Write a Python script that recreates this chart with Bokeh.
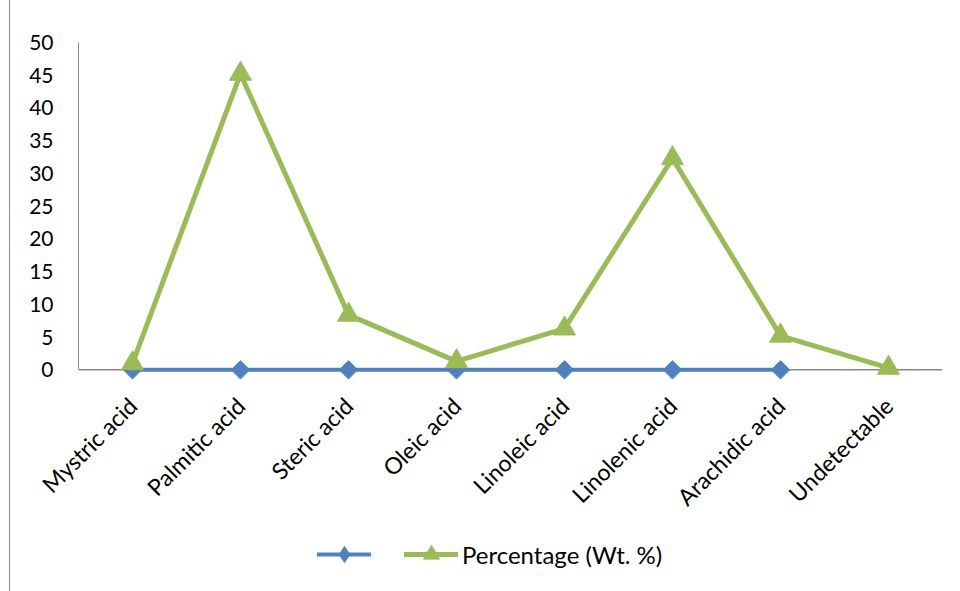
import math

from bokeh.embed import file_html
from bokeh.resources import INLINE
from bokeh.layouts import column
from bokeh.plotting import figure
from bokeh.models import (FactorRange, Range1d, FixedTicker, Legend, LegendItem, Span)

# Fatty acid composition
categories = ["Mystric acid", "Palmitic acid", "Steric acid", "Oleic acid",
              "Linoleic acid", "Linolenic acid", "Arachidic acid", "Undetectable"]
percentage = [1.0, 45.2, 8.4, 1.3, 6.3, 32.3, 5.2, 0.3]
baseline_series = [0, 0, 0, 0, 0, 0, 0]          # first seven categories only
y_ticks = [0, 5, 10, 15, 20, 25, 30, 35, 40, 45, 50]
legend_labels = ["", "Percentage (Wt. %)"]

BLUE = "#4F81BD"
GREEN = "#9BBB59"
AXIS = "#868686"
FONT = "Lato"

base_x = categories[:len(baseline_series)]

# the range dips a little below zero so markers sitting on the baseline are not clipped
p = figure(
    frame_width=864, frame_height=347,
    x_range=FactorRange(*categories, range_padding=0),
    y_range=Range1d(-3, 50),
    output_backend="svg", toolbar_location=None,
    min_border_left=68, min_border_right=18,
    min_border_top=42, min_border_bottom=142,
)
p.outline_line_color = None
p.grid.visible = False

# y axis
p.yaxis.ticker = FixedTicker(ticks=y_ticks)
p.yaxis.bounds = (0, 50)
p.yaxis.axis_line_color = AXIS
p.yaxis.major_tick_line_color = None
p.yaxis.minor_tick_line_color = None
p.yaxis.major_tick_out = 0
p.yaxis.major_tick_in = 0
p.yaxis.major_label_standoff = 25
p.yaxis.major_label_text_font = FONT
p.yaxis.major_label_text_font_size = "21px"
p.yaxis.major_label_text_color = "#000000"

# category axis sits under the frame; its visible line is the zero span
p.xaxis.axis_line_color = None
p.xaxis.major_tick_line_color = None
p.xaxis.minor_tick_line_color = None
p.xaxis.major_tick_out = 0
p.xaxis.major_tick_in = 0
p.xaxis.major_label_orientation = math.pi / 4
p.xaxis.major_label_standoff = 12
p.xaxis.major_label_text_font = FONT
p.xaxis.major_label_text_font_size = "23px"
p.xaxis.major_label_text_color = "#000000"

p.add_layout(Span(location=0, dimension="width", line_color=AXIS,
                  line_width=1.5, level="underlay"))

# series
p.line(base_x, baseline_series, line_color=BLUE, line_width=4)
p.scatter(base_x, baseline_series, marker="square", angle=math.pi / 4, size=13,
          fill_color=BLUE, line_color=BLUE)

p.line(categories, percentage, line_color=GREEN, line_width=5)
p.scatter(categories, percentage, marker="triangle", size=22,
          fill_color=GREEN, line_color=GREEN)

# legend strip under the chart; its y range lies above the data, so the
# series drawn here only lend their styles to the legend keys
lf = figure(
    width=950, height=60,
    x_range=FactorRange(*categories, range_padding=0),
    y_range=Range1d(1000, 1001),
    x_axis_type=None, y_axis_type=None,
    output_backend="svg", toolbar_location=None,
    min_border=0,
)
lf.outline_line_color = None
lf.grid.visible = False

kb_line = lf.line(base_x, baseline_series, line_color=BLUE, line_width=4,
                  line_cap="round")
kb_pt = lf.scatter(base_x, baseline_series, marker="diamond", size=16,
                   fill_color=BLUE, line_color=BLUE)
kg_line = lf.line(categories, percentage, line_color=GREEN, line_width=5,
                  line_cap="round")
kg_pt = lf.scatter(categories, percentage, marker="triangle", size=16,
                   fill_color=GREEN, line_color=GREEN)

legend = Legend(
    items=[
        LegendItem(label=legend_labels[0], renderers=[kb_line, kb_pt]),
        LegendItem(label=legend_labels[1], renderers=[kg_line, kg_pt]),
    ],
    orientation="horizontal", location=(239, 17),
    border_line_color=None, background_fill_alpha=0,
    glyph_width=54, glyph_height=40, label_standoff=4, spacing=29,
    label_width=0,
    label_text_font=FONT, label_text_font_size="24px",
    label_text_color="#000000",
    margin=0, padding=0,
)
lf.add_layout(legend, "center")

page = column(p, lf, spacing=0,
              styles={"margin-left": "9px", "border-left": "1px solid #898989"})

open("out.html", "w").write(file_html(page, INLINE))
